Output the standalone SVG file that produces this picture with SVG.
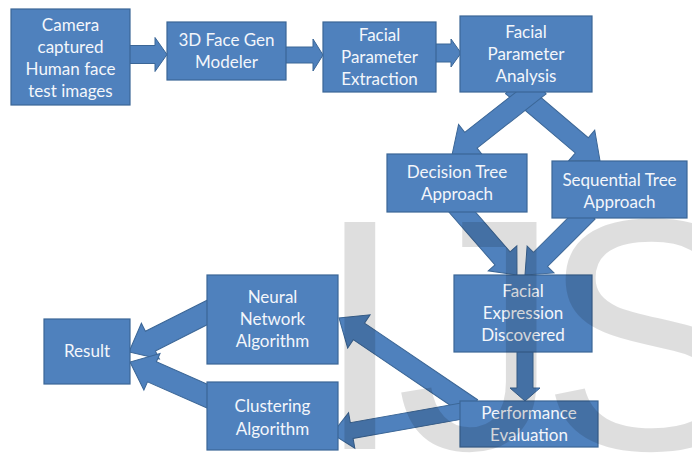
<svg xmlns="http://www.w3.org/2000/svg" width="692" height="453" viewBox="0 0 692 453">
  <style>
    .box { fill: #4f81bd; stroke: #3b6696; stroke-width: 1.2; }
    .arrow { fill: #4f81bd; stroke: #3b6696; stroke-width: 1; stroke-linejoin: miter; }
    .label { font-family: Lato, "Open Sans", "Liberation Sans", sans-serif; font-size: 17px; fill: #f3f6fb; text-anchor: middle; }
    .mark { font-family: "Liberation Sans", Arial, sans-serif; font-size: 330px; fill: #000; fill-opacity: 0.13; }
  </style>
  <rect width="692" height="453" fill="#ffffff"/>

  <!-- connectors: block arrows drawn along +x from the tail, then placed -->
  <g id="connectors">
    <path class="arrow" transform="translate(125,54.5)" d="M0,-9 H30 V-17 L42,0 L30,17 V9 H0 Z"/>
    <path class="arrow" transform="translate(281,55)" d="M0,-8 H32 V-16 L42,0 L32,16 V8 H0 Z"/>
    <path class="arrow" transform="translate(431,53)" d="M0,-9 H20 V-14 L30,0 L20,14 V9 H0 Z"/>
    <path class="arrow" transform="translate(512,86) rotate(40.4)" d="M0,-10 H91.6 V-20 L115.6,0 L91.6,20 V10 H0 Z"/>
    <path class="arrow" transform="translate(540,86) rotate(141.9)" d="M0,-10 H87.8 V-20 L111.8,0 L87.8,20 V10 H0 Z"/>
    <path class="arrow" transform="translate(456,205) rotate(48.9)" d="M0,-10 H70.8 V-19 L92.8,0 L70.8,19 V10 H0 Z"/>
    <path class="arrow" transform="translate(588,212) rotate(135)" d="M0,-10 H67.1 V-19 L89.1,0 L67.1,19 V10 H0 Z"/>
    <path class="arrow" transform="translate(525,348) rotate(90)" d="M0,-8 H40 V-15 L53,0 L40,15 V8 H0 Z"/>
    <path class="arrow" transform="translate(472,408) rotate(214.1)" d="M0,-10 H136.6 V-20 L160.6,0 L136.6,20 V10 H0 Z"/>
    <path class="arrow" transform="translate(468,410) rotate(170)" d="M0,-8 H118.1 V-18 L138.1,0 L118.1,18 V8 H0 Z"/>
    <path class="arrow" transform="translate(216,308) rotate(153.2)" d="M0,-11 H73.5 V-20 L97.5,0 L73.5,20 V11 H0 Z"/>
    <path class="arrow" transform="translate(216,400) rotate(203.8)" d="M0,-11 H70 V-20 L94,0 L70,20 V11 H0 Z"/>
  </g>

  <g id="camera">
    <rect class="box" x="11" y="9" width="119" height="96"/>
    <text class="label" x="70.5" y="31">Camera</text>
    <text class="label" x="70.5" y="53">captured</text>
    <text class="label" x="70.5" y="75">Human face</text>
    <text class="label" x="70.5" y="97">test images</text>
  </g>
  <g id="modeler">
    <rect class="box" x="167" y="22" width="119" height="58"/>
    <text class="label" x="226.5" y="46">3D Face Gen</text>
    <text class="label" x="226.5" y="68">Modeler</text>
  </g>
  <g id="extraction">
    <rect class="box" x="323" y="22" width="113" height="70"/>
    <text class="label" x="379.5" y="41">Facial</text>
    <text class="label" x="379.5" y="63">Parameter</text>
    <text class="label" x="379.5" y="85">Extraction</text>
  </g>
  <g id="analysis">
    <rect class="box" x="460" y="16" width="132" height="76"/>
    <text class="label" x="526" y="38">Facial</text>
    <text class="label" x="526" y="60">Parameter</text>
    <text class="label" x="526" y="82">Analysis</text>
  </g>
  <g id="decision-tree">
    <rect class="box" x="387" y="154" width="140" height="58"/>
    <text class="label" x="457" y="178">Decision Tree</text>
    <text class="label" x="457" y="200">Approach</text>
  </g>
  <g id="sequential-tree">
    <rect class="box" x="552" y="161" width="135" height="57"/>
    <text class="label" x="619.5" y="186">Sequential Tree</text>
    <text class="label" x="619.5" y="208">Approach</text>
  </g>
  <g id="expression">
    <rect class="box" x="454" y="275" width="138" height="77"/>
    <text class="label" x="523" y="297">Facial</text>
    <text class="label" x="523" y="319">Expression</text>
    <text class="label" x="523" y="341">Discovered</text>
  </g>
  <g id="performance">
    <rect class="box" x="460" y="401" width="138" height="46"/>
    <text class="label" x="529" y="419">Performance</text>
    <text class="label" x="529" y="441">Evaluation</text>
  </g>
  <g id="neural-network">
    <rect class="box" x="207" y="275" width="131" height="89"/>
    <text class="label" x="272.5" y="303">Neural</text>
    <text class="label" x="272.5" y="325">Network</text>
    <text class="label" x="272.5" y="347">Algorithm</text>
  </g>
  <g id="clustering">
    <rect class="box" x="207" y="382" width="131" height="68"/>
    <text class="label" x="272.5" y="412">Clustering</text>
    <text class="label" x="272.5" y="435">Algorithm</text>
  </g>
  <g id="result">
    <rect class="box" x="44" y="319" width="86" height="65"/>
    <text class="label" x="87" y="357">Result</text>
  </g>

  <!-- faint publisher watermark across the lower right -->
  <text class="mark" x="314 396 540" y="449">IJS</text>
</svg>
